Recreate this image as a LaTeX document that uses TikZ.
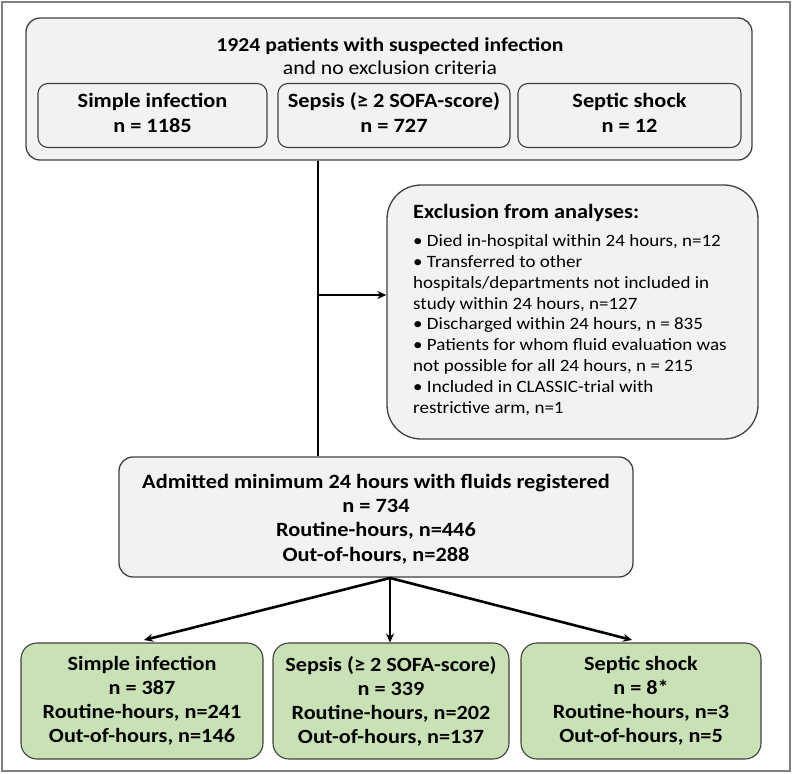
\documentclass[tikz,border=0pt]{standalone}
\usepackage{fontspec}
\setmainfont{Carlito}[FakeStretch=1.1]
\usetikzlibrary{arrows.meta}
\definecolor{boxgray}{HTML}{F2F2F2}
\definecolor{boxgreen}{HTML}{C8E2B6}
\definecolor{edge}{HTML}{404040}
\definecolor{framegray}{HTML}{7F7F7F}
\tikzset{
  graybox/.style={draw=edge, line width=1.3pt, fill=boxgray, rounded corners=14pt, inner sep=0pt},
  innerbox/.style={draw=edge, line width=1.1pt, fill=boxgray, rounded corners=10pt, inner sep=0pt},
  innertext/.style={align=center, inner sep=0pt, font=\fontsize{20.3}{25}\selectfont\bfseries},
  greenbox/.style={draw=edge, line width=1.1pt, fill=boxgreen, rounded corners=16pt, inner sep=0pt, align=center, font=\fontsize{20.2}{24}\selectfont\bfseries},
  conn/.style={line width=2.4pt, black},
  arr/.style={line width=2.6pt, black, -{Stealth[length=9pt,width=8pt]}},
}
\begin{document}
\begin{tikzpicture}[x=1pt,y=-1pt]
\useasboundingbox (0,0) rectangle (793,774);
\draw[framegray, line width=2pt] (2,2) rectangle (790,771);

% top box
\node[graybox, minimum width=726pt, minimum height=142pt] (top) at (389,89) {};
\node[align=center, inner sep=0pt, font=\fontsize{19.7}{23}\selectfont] (title) at (390,56)
  {\textbf{1924 patients with suspected infection}\\
   and no exclusion criteria};
\node[innerbox, minimum width=229pt, minimum height=64pt] (t1) at (152.5,115.5) {};
\node[innerbox, minimum width=232pt, minimum height=64pt] (t2) at (394,115.5) {};
\node[innerbox, minimum width=223pt, minimum height=64pt] (t3) at (629.5,115.5) {};
\node[innertext] (t1text) at (152.5,112.5) {Simple infection\\n = 1185};
\node[innertext] (t2text) at (394,112.5) {Sepsis (≥ 2 SOFA-score)\\n = 727};
\node[innertext] (t3text) at (629.5,112.5) {Septic shock\\n = 12};

% exclusion box
\node[graybox, rounded corners=34pt, minimum width=371pt, minimum height=254pt] (excl) at (572.5,312) {};
\node[anchor=north west, align=left, inner sep=0pt, font=\fontsize{17.3}{20.9}\selectfont] (excltext) at (413,204)
  {{\bfseries\fontsize{20.3}{22}\selectfont Exclusion from analyses:}\\[7pt]
   • Died in-hospital within 24 hours, n=12\\
   • Transferred to other\\
   hospitals/departments not included in\\
   study within 24 hours, n=127\\
   • Discharged within 24 hours, n = 835\\
   • Patients for whom fluid evaluation was\\
   not possible for all 24 hours, n = 215\\
   • Included in CLASSIC-trial with\\
   restrictive arm, n=1};

% admitted box
\node[graybox, minimum width=514pt, minimum height=120pt] (adm) at (376,517) {};
\node[align=center, inner sep=0pt, font=\fontsize{20.3}{24.3}\selectfont\bfseries] (admtext) at (376,519)
  {Admitted minimum 24 hours with fluids registered\\n = 734\\Routine-hours, n=446\\Out-of-hours, n=288};

% bottom boxes
\node[greenbox, minimum width=242pt, minimum height=116pt] (b1) at (142,701)
  {Simple infection\\n = 387\\Routine-hours, n=241\\Out-of-hours, n=146};
\node[greenbox, minimum width=236pt, minimum height=116pt] (b2) at (391,701)
  {Sepsis (≥ 2 SOFA-score)\\n = 339\\Routine-hours, n=202\\Out-of-hours, n=137};
\node[greenbox, minimum width=240pt, minimum height=116pt] (b3) at (641,701)
  {Septic shock\\n = 8*\\Routine-hours, n=3\\Out-of-hours, n=5};

% connectors
\coordinate (vx) at (318,0);
\coordinate (j) at (318,295);
\draw[conn] (top.south -| vx) -- (adm.north -| vx);
\draw[arr, line width=2pt] (j) -- (j -| excl.west);
\coordinate (apex) at (390,578);
\coordinate (e1) at (144,640);
\coordinate (e3) at (632,640);
\draw[arr] (apex) -- (e1);
\draw[arr] (apex) -- (apex |- b2.north);
\draw[arr] (apex) -- (e3);
\end{tikzpicture}
\end{document}
